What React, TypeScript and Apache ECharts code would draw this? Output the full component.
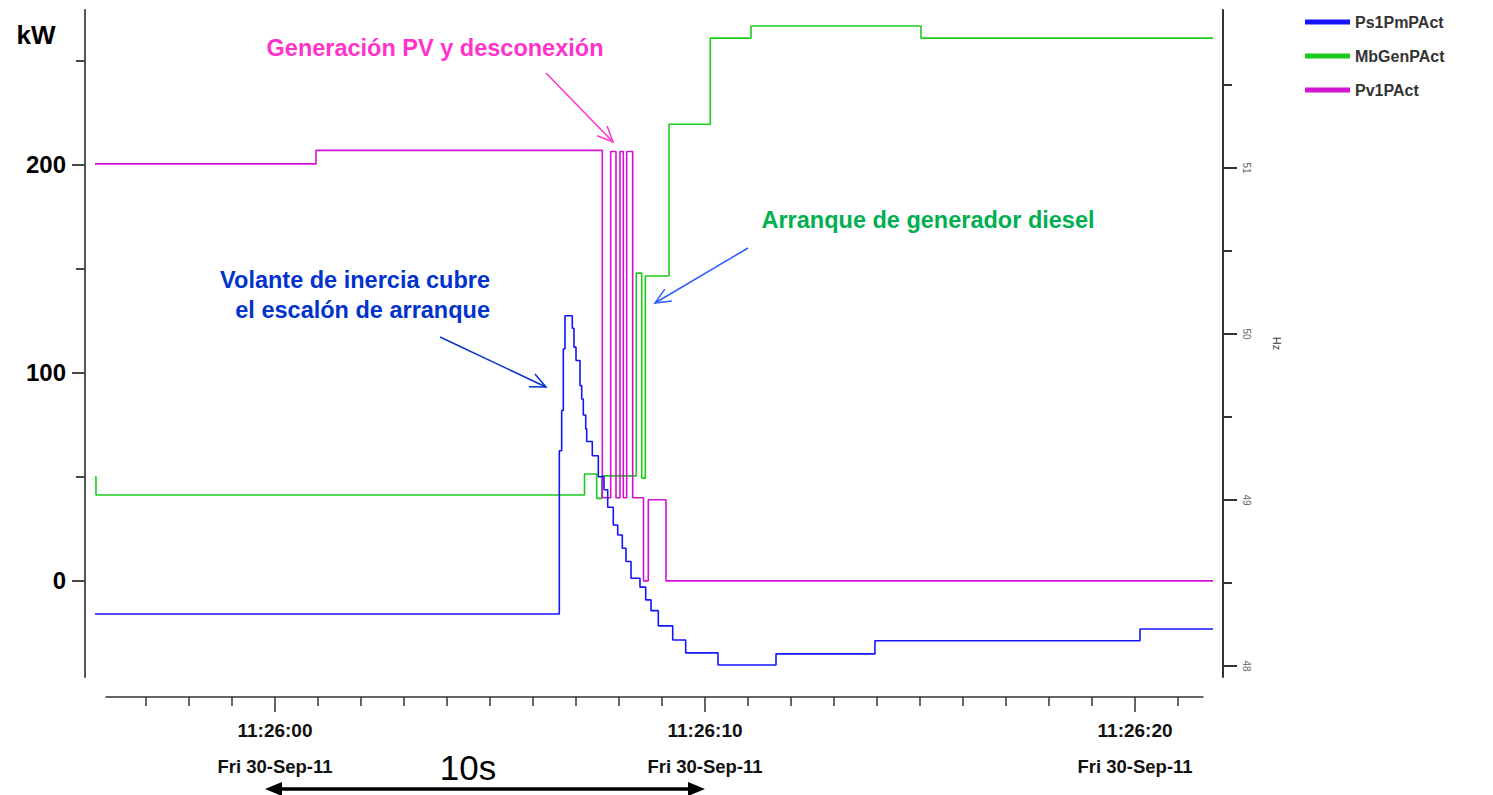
import React, { useEffect, useRef } from "react";
import * as echarts from "echarts";

// ---- data (time in seconds relative to 11:26:00) ----
const seriesNames = ["Ps1PmPAct", "MbGenPAct", "Pv1PAct"];

const flyTimes = [
  -4.186, 6.612, 6.667, 6.705, 6.744, 6.914, 6.953, 7.0, 7.093, 7.133, 7.17, 7.226, 7.249,
  7.379, 7.519, 7.651, 7.737, 7.867, 7.97, 8.077, 8.163, 8.279, 8.488, 8.621, 8.744, 8.914,
  9.249, 9.551, 10.302, 11.651, 13.953, 20.116, 21.814,
];
const flyValues = [
  -15.9, 62.6, 81.9, 111.5, 127.5, 121.5, 112.4, 106, 93.9, 87.5, 79.8, 73.1, 67,
  60.2, 50.1, 43.8, 35.4, 26.9, 22.1, 15.7, 9.3, 1.3, -3.0, -9.1, -14.3, -21.6,
  -28.4, -34.6, -40.4, -35.1, -28.8, -23.1, -23.1,
];

const genTimes = [-4.186, -4.163, 7.198, 7.481, 7.598, 8.402, 8.528, 8.612, 9.163, 10.123, 11.07, 15.023, 21.814];
const genValues = [50, 41.3, 51.4, 39.7, 50.5, 148, 49.4, 146.6, 219.6, 261, 266.8, 261, 261];

const pvTimes = [-4.186, 0.953, 7.612, 7.807, 7.93, 8.023, 8.1, 8.179, 8.319, 8.57, 8.681, 9.093, 21.814];
const pvValues = [200.5, 207, 40, 206.5, 40, 206.5, 40, 206.5, 40, 0, 39, 0, 0];

const kwLabelValues = [0, 100, 200];
const kwMinorValues = [50, 150, 250];
const hzLabelValues = [48, 49, 50, 51];
const hzMinorValues = [48.5, 49.5, 50.5, 51.5];
const majorSeconds = [0, 10, 20];
const timeLabels = ["11:26:00", "11:26:10", "11:26:20"];
const dateLabel = "Fri 30-Sep-11";
const minorSeconds = [-3, -2, -1, 1, 2, 3, 4, 5, 6, 7, 8, 9, 11, 12, 13, 14, 15, 16, 17, 18, 19, 21];

const unitLabel = "kW";
const hzName = "Hz";
const pvNote = "Generación PV y desconexión";
const dieselNote = "Arranque de generador diesel";
const flyNote1 = "Volante de inercia cubre";
const flyNote2 = "el escalón de arranque";
const spanNote = "10s";

// ---- scales ----
const PLOT_X_MIN = -4.4186;
const PLOT_X_MAX = 22.0465;
const AXIS_X_MIN = -3.93;
const AXIS_X_MAX = 21.58;
const KW_MIN = -46.2;
const KW_MAX = 274.5;
const HZ_MIN = 47.934;
const HZ_MAX = 51.952;

const FONT = "Arial, 'Liberation Sans', sans-serif";
const colors = ["#1414ff", "#1ccc1c", "#d214d2"];

function arrowHead(x1: number, y1: number, x2: number, y2: number, len: number, ang: number) {
  const a = Math.atan2(y1 - y2, x1 - x2);
  return [
    [x2 + len * Math.cos(a + ang), y2 + len * Math.sin(a + ang)],
    [x2, y2],
    [x2 + len * Math.cos(a - ang), y2 + len * Math.sin(a - ang)],
  ];
}

function noteArrow(x1: number, y1: number, x2: number, y2: number, color: string) {
  return [
    { type: "line", shape: { x1, y1, x2, y2 }, style: { stroke: color, lineWidth: 1.5 }, silent: true },
    {
      type: "polyline",
      shape: { points: arrowHead(x1, y1, x2, y2, 17, 0.42) },
      style: { stroke: color, lineWidth: 1.5, fill: null },
      silent: true,
    },
  ];
}

export default function App() {
  const ref = useRef<HTMLDivElement>(null);
  useEffect(() => {
    if (!ref.current) return;
    const chart = echarts.init(ref.current, null, { renderer: "svg" });
    const tickStyle = { color: "#333", width: 1.5 };
    const mk = (ts: number[], vs: number[]) => ts.map((t, i) => [t, vs[i]]);
    const allData = [mk(flyTimes, flyValues), mk(genTimes, genValues), mk(pvTimes, pvValues)];
    const noteStyle = { fontSize: 23.5, fontWeight: "bold", fontFamily: FONT, verticalAlign: "middle" };

    chart.setOption({
      animation: false,
      backgroundColor: "#ffffff",
      grid: [
        { left: 85, top: 10, width: 1138, height: 667, containLabel: false },
        { left: 106, top: 10, width: 1097, height: 667, containLabel: false },
      ],
      legend: {
        data: seriesNames,
        orient: "vertical",
        left: 1300,
        top: 9,
        icon: "rect",
        itemWidth: 45,
        itemHeight: 5,
        itemGap: 18,
        textStyle: { fontSize: 16, fontWeight: "bold", color: "#333", fontFamily: FONT },
      },
      xAxis: [
        {
          type: "value",
          gridIndex: 0,
          min: PLOT_X_MIN,
          max: PLOT_X_MAX,
          show: false,
          splitLine: { show: false },
        },
        {
          type: "value",
          gridIndex: 1,
          min: AXIS_X_MIN,
          max: AXIS_X_MAX,
          position: "bottom",
          offset: 20,
          axisLine: { show: true, onZero: false, lineStyle: tickStyle },
          axisTick: { show: true, customValues: minorSeconds, length: 9, lineStyle: tickStyle },
          axisLabel: { show: false },
          splitLine: { show: false },
        },
        {
          type: "value",
          gridIndex: 1,
          min: AXIS_X_MIN,
          max: AXIS_X_MAX,
          position: "bottom",
          offset: 20,
          axisLine: { show: false, onZero: false },
          axisTick: { show: true, customValues: majorSeconds, length: 15, lineStyle: tickStyle },
          axisLabel: {
            show: true,
            customValues: majorSeconds,
            margin: 15,
            formatter: (v: number) => {
              const i = majorSeconds.indexOf(Math.round(v));
              return "{t|" + timeLabels[i] + "}\n{d|" + dateLabel + "}";
            },
            rich: {
              t: { fontSize: 19, fontWeight: "bold", color: "#111", fontFamily: FONT, lineHeight: 36 },
              d: { fontSize: 18.5, fontWeight: "bold", color: "#111", fontFamily: FONT, lineHeight: 36 },
            },
          },
          splitLine: { show: false },
        },
      ],
      yAxis: [
        {
          type: "value",
          gridIndex: 0,
          position: "left",
          min: KW_MIN,
          max: KW_MAX,
          axisLine: { show: true, onZero: false, lineStyle: { color: "#555", width: 2 } },
          axisTick: { show: true, customValues: kwLabelValues, length: 13, lineStyle: { color: "#444", width: 2 } },
          axisLabel: {
            show: true,
            customValues: kwLabelValues,
            margin: 19,
            fontSize: 24,
            fontWeight: "bold",
            color: "#000",
            fontFamily: FONT,
          },
          splitLine: { show: false },
        },
        {
          type: "value",
          gridIndex: 0,
          position: "left",
          min: KW_MIN,
          max: KW_MAX,
          axisLine: { show: false, onZero: false },
          axisTick: { show: true, customValues: kwMinorValues, length: 9, lineStyle: { color: "#444", width: 2 } },
          axisLabel: { show: false },
          splitLine: { show: false },
        },
        {
          type: "value",
          gridIndex: 0,
          position: "right",
          min: HZ_MIN,
          max: HZ_MAX,
          name: hzName,
          nameLocation: "middle",
          nameRotate: -90,
          nameGap: 48,
          nameTextStyle: { fontSize: 11, color: "#333", fontFamily: FONT },
          axisLine: { show: true, onZero: false, lineStyle: { color: "#333", width: 2 } },
          axisTick: { show: true, customValues: hzLabelValues, length: 14, lineStyle: { color: "#333", width: 2 } },
          axisLabel: {
            show: true,
            customValues: hzLabelValues,
            rotate: -90,
            margin: 18,
            fontSize: 10,
            color: "#666",
            fontFamily: FONT,
          },
          splitLine: { show: false },
        },
        {
          type: "value",
          gridIndex: 0,
          position: "right",
          min: HZ_MIN,
          max: HZ_MAX,
          axisLine: { show: false, onZero: false },
          axisTick: { show: true, customValues: hzMinorValues, length: 9, lineStyle: { color: "#333", width: 2 } },
          axisLabel: { show: false },
          splitLine: { show: false },
        },
        {
          type: "value",
          gridIndex: 1,
          show: false,
          min: KW_MIN,
          max: KW_MAX,
          splitLine: { show: false },
        },
      ],
      series: seriesNames.map((name, i) => ({
        name,
        type: "line",
        step: "end",
        xAxisIndex: 0,
        yAxisIndex: 0,
        data: allData[i],
        showSymbol: false,
        symbol: "none",
        clip: false,
        color: colors[i],
        lineStyle: { color: colors[i], width: 1.6 },
        z: i === 0 ? 4 : 3,
      })),
      graphic: [
        {
          type: "text",
          x: 36,
          y: 35,
          style: { text: unitLabel, fontSize: 26, fontWeight: "bold", fontFamily: FONT, fill: "#000", align: "center", verticalAlign: "middle" },
        },
        { type: "text", x: 435, y: 48, style: { ...noteStyle, text: pvNote, fill: "#ff33cc", align: "center" } },
        { type: "text", x: 928, y: 220, style: { ...noteStyle, text: dieselNote, fill: "#00b050", align: "center" } },
        { type: "text", x: 490, y: 280, style: { ...noteStyle, text: flyNote1, fill: "#0033cc", align: "right" } },
        { type: "text", x: 490, y: 310, style: { ...noteStyle, text: flyNote2, fill: "#0033cc", align: "right" } },
        {
          type: "text",
          x: 468,
          y: 767,
          style: { text: spanNote, fontSize: 35, fontFamily: FONT, fill: "#000", align: "center", verticalAlign: "middle" },
        },
        ...noteArrow(546, 73, 613, 142, "#ff33cc"),
        ...noteArrow(748, 248, 655, 303, "#2a5cff"),
        ...noteArrow(440, 337, 546, 387, "#0033cc"),
        {
          type: "line",
          shape: { x1: 276, y1: 789, x2: 694, y2: 789 },
          style: { stroke: "#000", lineWidth: 3.5 },
        },
        {
          type: "polygon",
          shape: { points: [[265, 789], [282, 782], [282, 796]] },
          style: { fill: "#000" },
        },
        {
          type: "polygon",
          shape: { points: [[705, 789], [688, 782], [688, 796]] },
          style: { fill: "#000" },
        },
      ],
    });
    return () => chart.dispose();
  }, []);
  return (
    <div
      ref={ref}
      style={{ position: "absolute", left: 0, top: 0, width: 1493, height: 795, background: "#fff" }}
    />
  );
}
